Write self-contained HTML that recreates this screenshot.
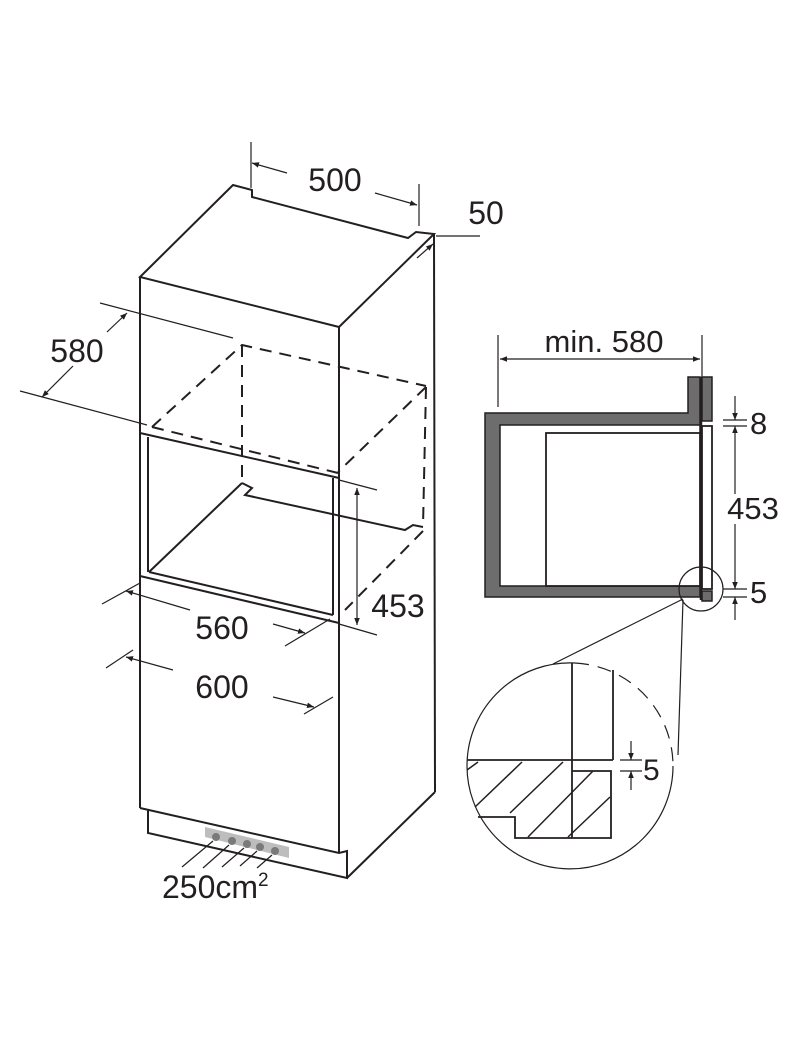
<!DOCTYPE html>
<html><head><meta charset="utf-8"><style>
html,body{margin:0;padding:0;background:#fff;}
svg{display:block;}
text{font-family:"Liberation Sans",Arial,sans-serif;fill:#231f20;}
</style></head><body>
<svg width="800" height="1046" viewBox="0 0 800 1046" xmlns="http://www.w3.org/2000/svg">
<defs>
<marker id="a" viewBox="0 0 10 10" refX="10" refY="5" markerWidth="7" markerHeight="7" orient="auto-start-reverse" markerUnits="userSpaceOnUse"><path d="M0,1 L10,5 L0,9 z" fill="#231f20"/></marker>
</defs>
<g fill="none" stroke="#231f20" stroke-width="2" stroke-linejoin="miter">
<path d="M140,277 L233,185 L252,190 L252,197 L408,238 L416,232 L434,234 L339,327 Z"/>
<line x1="140" y1="277" x2="140" y2="808"/>
<line x1="339" y1="327" x2="339" y2="853"/>
<line x1="434" y1="234" x2="435" y2="792"/>
<line x1="435" y1="792" x2="347" y2="878"/>
<path d="M140,808 L339,853 L347,851 L347,878 L148,833 L148,810"/>
<line x1="140" y1="433" x2="339" y2="478"/>
<line x1="140" y1="576" x2="339" y2="623"/>
<line x1="148" y1="437" x2="148" y2="572"/>
<line x1="149" y1="572" x2="333" y2="615"/>
<line x1="333" y1="478" x2="333" y2="615"/>
<line x1="242" y1="483" x2="149" y2="572"/>
<path d="M242,483 L252,488 L245,495 L405,530 L413,525 L423,527"/>
</g>
<g fill="none" stroke="#231f20" stroke-width="2" stroke-dasharray="12,8">
<path d="M152,427 L242,345 L426,386"/>
<line x1="152" y1="427" x2="338" y2="473"/>
<line x1="242" y1="345" x2="242" y2="483"/>
<line x1="426" y1="387" x2="423" y2="527"/>
<line x1="426" y1="387" x2="338" y2="472"/>
<line x1="423" y1="531" x2="345" y2="610"/>
</g>
<g fill="none" stroke="#231f20" stroke-width="1.2">
<line x1="251" y1="142" x2="251" y2="188"/>
<line x1="419" y1="184" x2="419" y2="226"/>
<line x1="287" y1="173" x2="252" y2="163" marker-end="url(#a)"/>
<line x1="375" y1="193" x2="417" y2="205" marker-end="url(#a)"/>
<line x1="436" y1="236" x2="480" y2="236"/>
<line x1="417" y1="258" x2="433" y2="244" marker-end="url(#a)"/>
<line x1="100" y1="303" x2="233" y2="338"/>
<line x1="20" y1="391" x2="147" y2="425"/>
<line x1="107" y1="332" x2="127" y2="313" marker-end="url(#a)"/>
<line x1="73" y1="366" x2="42" y2="397" marker-end="url(#a)"/>
<line x1="339" y1="480" x2="377" y2="490"/>
<line x1="339" y1="624" x2="377" y2="635"/>
<line x1="357" y1="488" x2="357" y2="625" marker-start="url(#a)" marker-end="url(#a)"/>
<line x1="102" y1="604" x2="140" y2="583"/>
<line x1="285" y1="646" x2="330" y2="619"/>
<line x1="190" y1="610" x2="126" y2="591" marker-end="url(#a)"/>
<line x1="273" y1="624" x2="305" y2="633" marker-end="url(#a)"/>
<line x1="106" y1="668" x2="133" y2="650"/>
<line x1="304" y1="714" x2="333" y2="697"/>
<line x1="173" y1="670" x2="126" y2="657" marker-end="url(#a)"/>
<line x1="273" y1="697" x2="314" y2="707" marker-end="url(#a)"/>
</g>
<polygon points="205,827 289,847 289,858 205,837" fill="#bdbdbd"/>
<g fill="#7a7a7a"><circle cx="216" cy="837" r="4"/><circle cx="232" cy="841" r="4"/><circle cx="247" cy="844" r="4"/><circle cx="260" cy="847" r="4"/><circle cx="275" cy="851" r="4"/></g>
<g stroke="#231f20" stroke-width="1.2">
<line x1="213" y1="841" x2="182" y2="867"/><line x1="229" y1="845" x2="203" y2="868"/><line x1="244" y1="848" x2="222" y2="867"/><line x1="257" y1="851" x2="240" y2="866"/><line x1="272" y1="855" x2="257" y2="868"/>
</g>
<g font-size="32">
<text x="335" y="191" text-anchor="middle">500</text>
<text x="486" y="224" text-anchor="middle">50</text>
<text x="77" y="362" text-anchor="middle">580</text>
<text x="398" y="617" text-anchor="middle">453</text>
<text x="222" y="639" text-anchor="middle">560</text>
<text x="222" y="698" text-anchor="middle">600</text>
<text x="162" y="898">250cm<tspan font-size="19" dy="-12">2</tspan></text>
</g>
<path d="M485,413 L688,413 L688,377 L700,377 L700,597 L485,597 Z M500,425 L500,586 L700,586 L700,425 Z" fill="#6d6d6d" fill-rule="evenodd" stroke="#231f20" stroke-width="1.5"/>
<line x1="701" y1="377" x2="701" y2="600" stroke="#231f20" stroke-width="2.5"/>
<rect x="702" y="377" width="10" height="44" fill="#6d6d6d" stroke="#231f20" stroke-width="1.5"/>
<rect x="702" y="591" width="10" height="10" fill="#6d6d6d" stroke="#231f20" stroke-width="1.5"/>
<rect x="702" y="426" width="10" height="163" fill="#fff" stroke="#231f20" stroke-width="1.8"/>
<rect x="546" y="433" width="154" height="153" fill="#fff" stroke="#231f20" stroke-width="1.8"/>
<g fill="none" stroke="#231f20" stroke-width="1.2">
<line x1="498" y1="335" x2="498" y2="407"/>
<line x1="702" y1="335" x2="702" y2="377"/>
<line x1="500" y1="359" x2="700" y2="359" marker-start="url(#a)" marker-end="url(#a)"/>
<line x1="723" y1="420" x2="747" y2="420"/><line x1="723" y1="426" x2="747" y2="426"/>
<line x1="735" y1="396" x2="735" y2="420" marker-end="url(#a)"/>
<line x1="735" y1="494" x2="735" y2="426" marker-end="url(#a)"/>
<line x1="735" y1="524" x2="735" y2="589" marker-end="url(#a)"/>
<line x1="723" y1="589" x2="747" y2="589"/><line x1="723" y1="597" x2="747" y2="597"/>
<line x1="735" y1="620" x2="735" y2="597" marker-end="url(#a)"/>
<circle cx="701" cy="589" r="22"/>
<line x1="683" y1="599" x2="553" y2="664"/>
<line x1="683" y1="600" x2="678" y2="755"/>
<path d="M575,663 A103,103 0 1 0 673,766"/>
<path d="M575,663 A103,103 0 0 1 673,766" stroke-dasharray="14,9"/>
</g>
<g fill="none" stroke="#231f20" stroke-width="1.8">
<line x1="572" y1="663" x2="572" y2="838"/>
<line x1="613" y1="670" x2="613" y2="760"/>
<line x1="467" y1="760" x2="613" y2="760"/>
<path d="M572,771 L611,771 L611,838 L515,838 L515,817 L478,817"/>
</g>
<g stroke="#231f20" stroke-width="1.5">
<line x1="478" y1="762" x2="467" y2="770"/>
<line x1="522" y1="762" x2="475" y2="807"/>
<line x1="563" y1="762" x2="510" y2="813"/>
<line x1="593" y1="771" x2="528" y2="837"/>
<line x1="610" y1="797" x2="568" y2="837"/>
</g>
<g fill="none" stroke="#231f20" stroke-width="1.2">
<line x1="620" y1="760" x2="642" y2="760"/><line x1="620" y1="771" x2="642" y2="771"/>
<line x1="631" y1="741" x2="631" y2="760" marker-end="url(#a)"/>
<line x1="631" y1="790" x2="631" y2="771" marker-end="url(#a)"/>
</g>
<g font-size="31">
<text x="604" y="352" text-anchor="middle">min. 580</text>
<text x="750" y="434">8</text>
<text x="753" y="519" text-anchor="middle">453</text>
<text x="750" y="603">5</text>
<text x="643" y="780" font-size="30">5</text>
</g>
</svg>
</body></html>
